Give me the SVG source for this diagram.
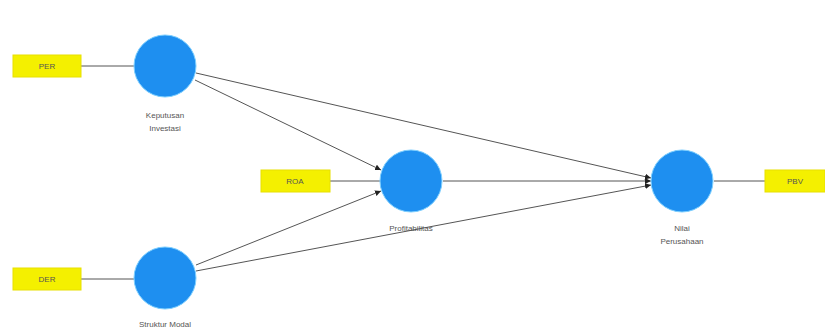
<svg xmlns="http://www.w3.org/2000/svg" width="825" height="331" viewBox="0 0 825 331">
<style>
.ind{fill:#f4f000;stroke:#e8e000;stroke-width:1}
.lv{fill:#1e8ff0;stroke:#7fd0ff;stroke-width:1}
.t{font-family:"Liberation Sans",Arial,sans-serif;font-size:8px;fill:#555;text-anchor:middle}
.c{stroke:#555;stroke-width:1;fill:none}
.a{stroke:#555;stroke-width:1;fill:none;marker-end:url(#ah)}
</style>
<defs>
<marker id="ah" viewBox="0 0 10 10" refX="10" refY="5" markerWidth="6" markerHeight="6" orient="auto" markerUnits="userSpaceOnUse">
<path d="M0,0 L10,5 L0,10 z" fill="#222"/>
</marker>
</defs>
<rect width="825" height="331" fill="#fff"/>
<g id="connectors">
<line class="c" x1="81" y1="66" x2="134" y2="66"/>
<line class="c" x1="81" y1="279" x2="134" y2="279"/>
<line class="c" x1="330" y1="181" x2="380" y2="181"/>
<line class="c" x1="714" y1="181" x2="765" y2="181"/>
<line class="a" x1="195" y1="80" x2="381" y2="170"/>
<line class="a" x1="196" y1="73" x2="651" y2="178"/>
<line class="a" x1="196" y1="265" x2="381" y2="191"/>
<line class="a" x1="196" y1="271" x2="651" y2="185"/>
<line class="a" x1="443" y1="181" x2="651" y2="181"/>
</g>
<g id="PER"><rect class="ind" x="13" y="55" width="68" height="22"/><text class="t" x="47" y="69">PER</text></g>
<g id="DER"><rect class="ind" x="13" y="268" width="68" height="22"/><text class="t" x="47" y="282">DER</text></g>
<g id="ROA"><rect class="ind" x="261" y="170" width="69" height="22"/><text class="t" x="295" y="184">ROA</text></g>
<g id="PBV"><rect class="ind" x="765" y="170" width="60" height="22"/><text class="t" x="795" y="184">PBV</text></g>
<g id="KeputusanInvestasi"><circle class="lv" cx="165" cy="66" r="31"/><text class="t" x="165" y="118">Keputusan</text><text class="t" x="165" y="131">Investasi</text></g>
<g id="StrukturModal"><circle class="lv" cx="165" cy="278" r="31"/><text class="t" x="165" y="327">Struktur Modal</text></g>
<g id="Profitabilitas"><circle class="lv" cx="411" cy="181" r="31"/><text class="t" x="411" y="231">Profitabilitas</text></g>
<g id="NilaiPerusahaan"><circle class="lv" cx="682" cy="181" r="31"/><text class="t" x="682" y="231">Nilai</text><text class="t" x="682" y="244">Perusahaan</text></g>
</svg>
